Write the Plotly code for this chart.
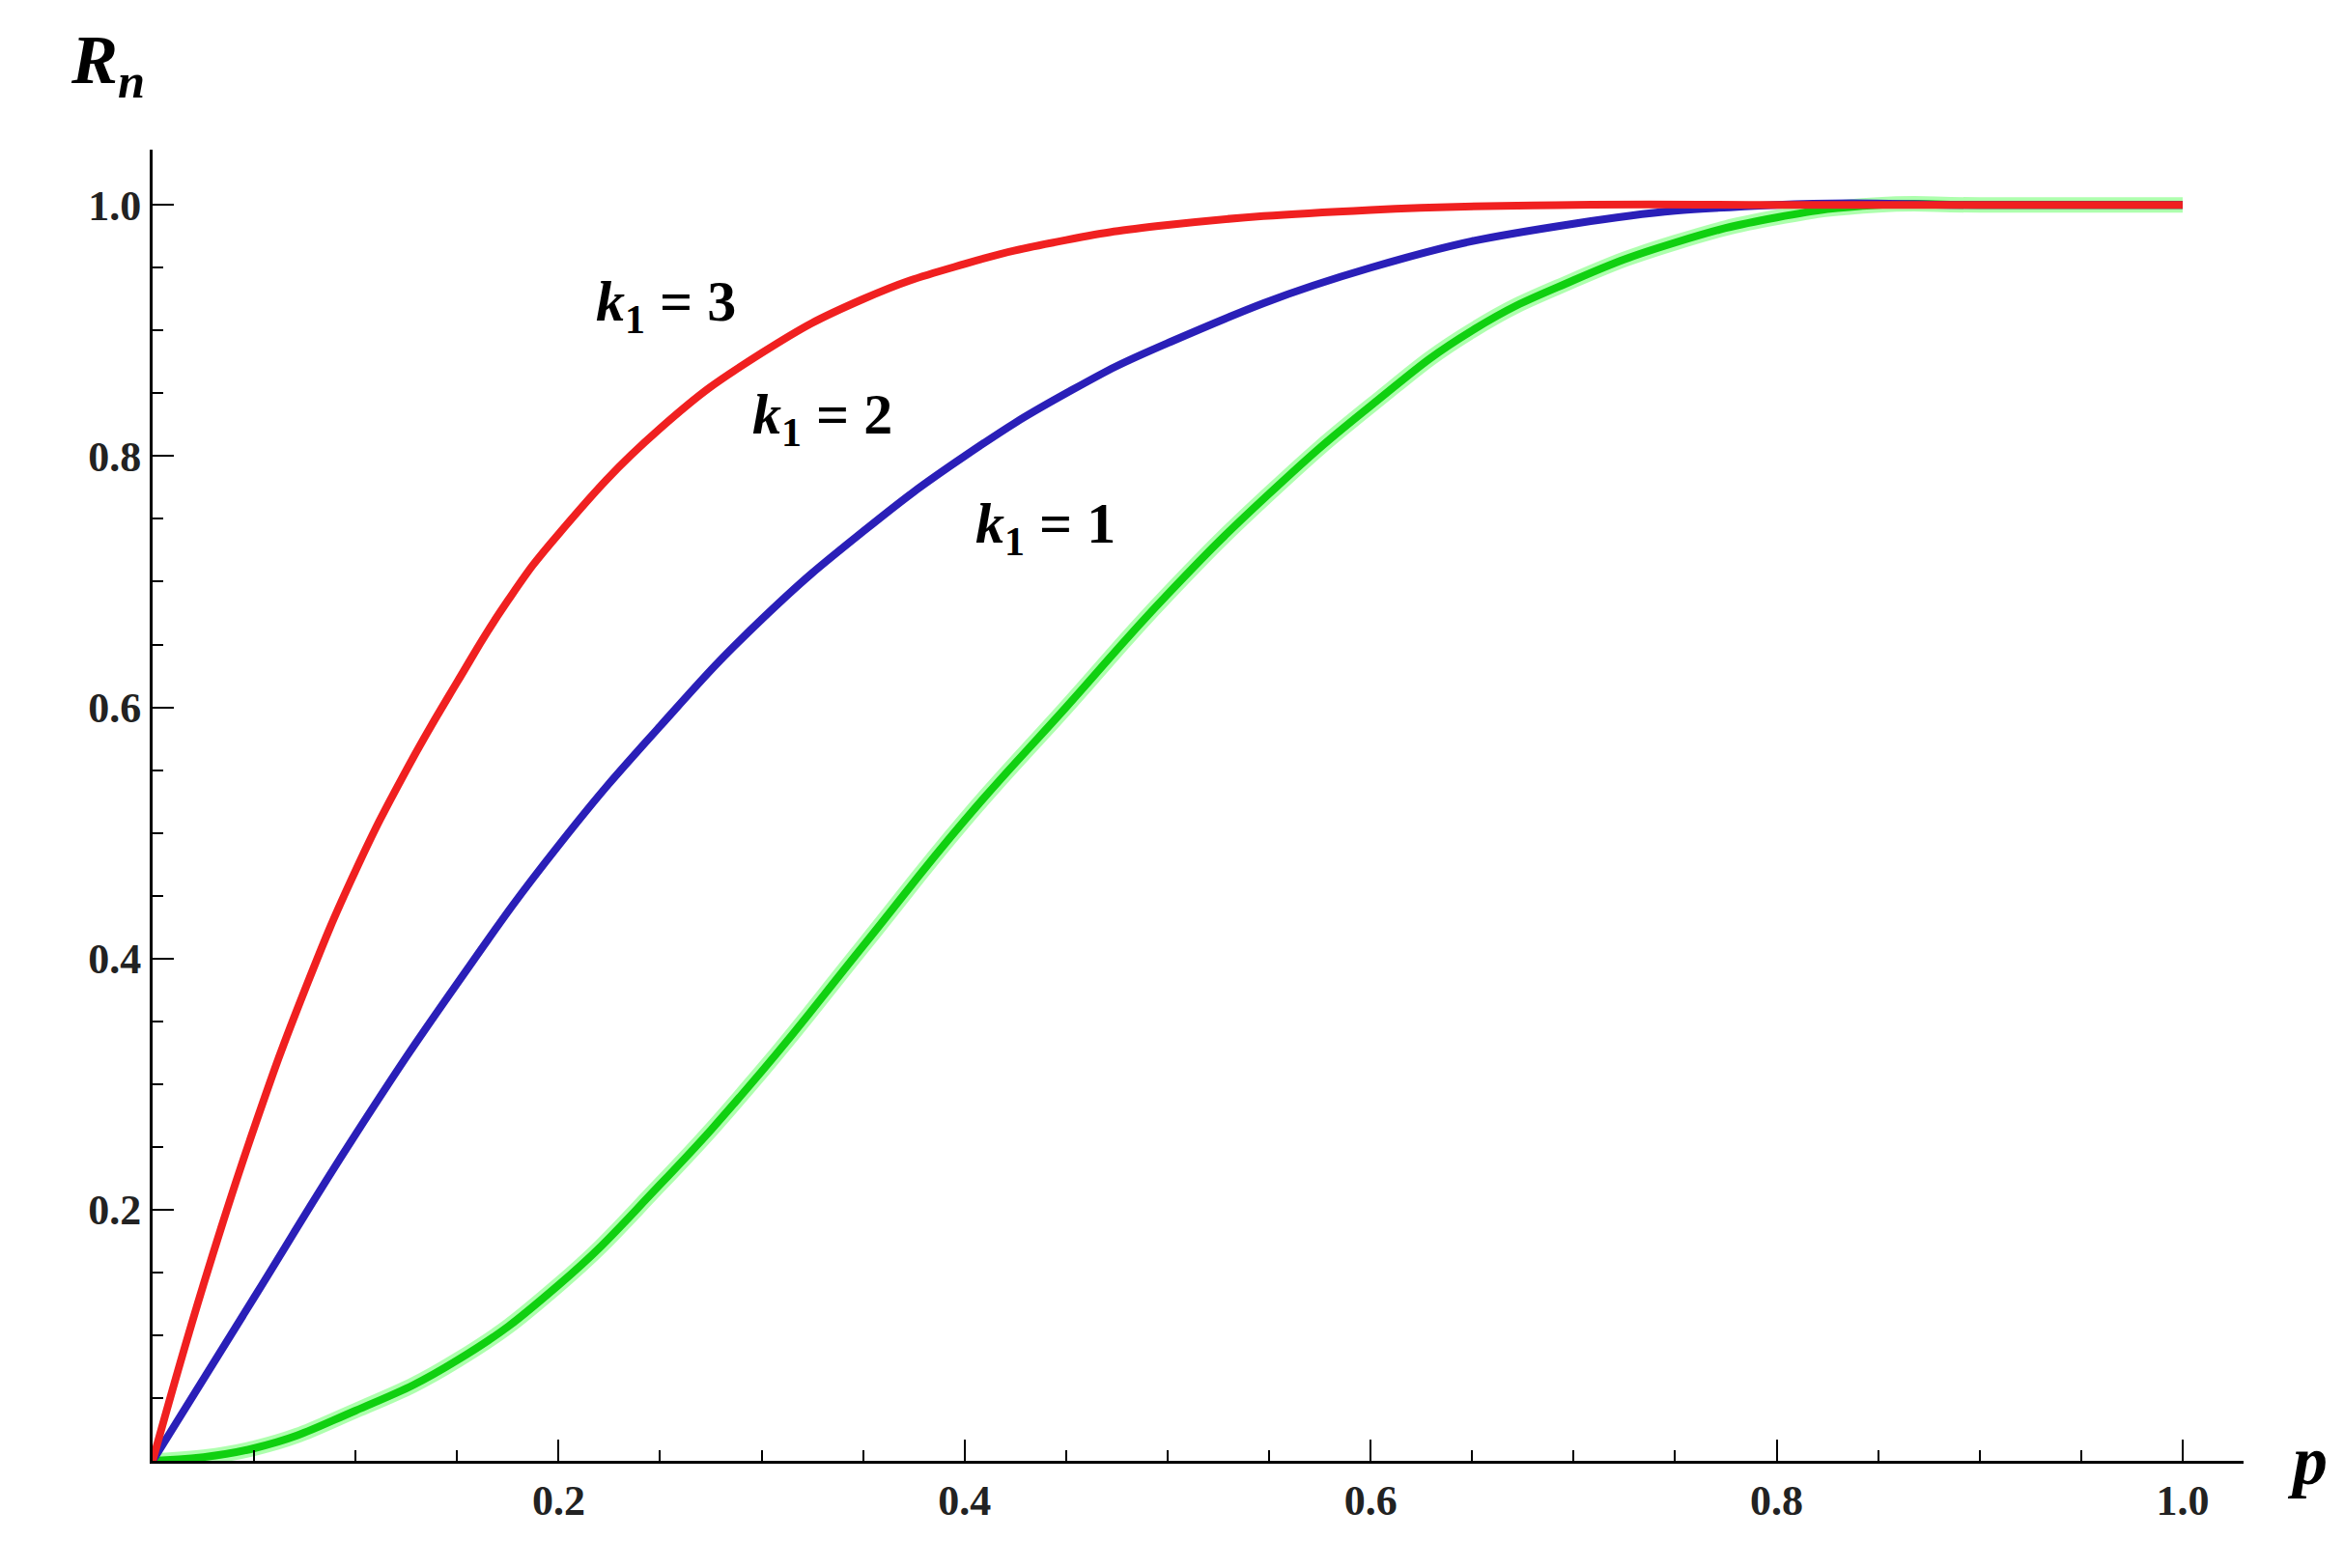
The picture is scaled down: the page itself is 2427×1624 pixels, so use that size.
import plotly.graph_objects as go

p_red = [0, 0.025, 0.05, 0.075, 0.1, 0.125, 0.15, 0.175, 0.2, 0.25, 0.3, 0.35, 0.4, 0.45, 0.5, 0.6, 0.7, 0.8, 0.9, 1.0]
r_red = [0, 0.14, 0.265, 0.375, 0.47, 0.55, 0.62, 0.685, 0.738, 0.822, 0.882, 0.925, 0.953, 0.972, 0.984, 0.996, 1.0, 1.0, 1.0, 1.0]
p_blue = [0, 0.05, 0.1, 0.15, 0.2, 0.25, 0.3, 0.35, 0.4, 0.45, 0.5, 0.6, 0.7, 0.8, 0.9, 1.0]
r_blue = [0, 0.13, 0.26, 0.38, 0.49, 0.585, 0.67, 0.74, 0.80, 0.85, 0.89, 0.95, 0.985, 1.0, 1.0, 1.0]
p_green = [0, 0.05, 0.1, 0.15, 0.2, 0.25, 0.3, 0.35, 0.4, 0.45, 0.5, 0.55, 0.6, 0.65, 0.7, 0.75, 0.8, 0.85, 0.9, 1.0]
r_green = [0, 0.01, 0.04, 0.08, 0.14, 0.22, 0.31, 0.41, 0.51, 0.60, 0.69, 0.77, 0.84, 0.90, 0.94, 0.97, 0.99, 1.0, 1.0, 1.0]
tick_vals = [0.2, 0.4, 0.6, 0.8, 1.0]
labels = [("3", 0.253, 0.92), ("2", 0.33, 0.83), ("1", 0.44, 0.743)]

fig = go.Figure()
fig.add_trace(go.Scatter(x=p_green, y=r_green, mode="lines", line=dict(color="rgba(120,255,120,0.6)", width=16, shape="spline", smoothing=1.3), hoverinfo="skip"))
fig.add_trace(go.Scatter(x=p_green, y=r_green, mode="lines", line=dict(color="#10d010", width=8, shape="spline", smoothing=1.3)))
fig.add_trace(go.Scatter(x=p_blue, y=r_blue, mode="lines", line=dict(color="#2a1fb8", width=8, shape="spline", smoothing=1.3)))
fig.add_trace(go.Scatter(x=p_red, y=r_red, mode="lines", line=dict(color="#f02020", width=8, shape="spline", smoothing=1.3)))

font = dict(family="Liberation Serif", size=44, color="#222", weight="bold")
axis = dict(showgrid=False, zeroline=False, showline=True, linecolor="black", linewidth=3,
            ticks="inside", ticklen=22, tickwidth=2, tickcolor="black",
            tickvals=tick_vals, tickformat=".1f", tickfont=font,
            minor=dict(ticks="inside", ticklen=11, tickwidth=2, dtick=0.05, tickcolor="black"))
fig.update_layout(width=2427, height=1624, plot_bgcolor="white", paper_bgcolor="white",
                  showlegend=False, margin=dict(l=150, r=112, t=147, b=119),
                  font=dict(family="Liberation Serif"))
fig.update_xaxes(range=[0, 1.03], **axis)
fig.update_yaxes(range=[0, 1.044], **axis)
for n, x, y in labels:
    fig.add_annotation(x=x, y=y, text="<b><i>k</i><sub>1</sub> = " + n + "</b>",
                       showarrow=False, xanchor="center", font=dict(family="Liberation Serif", size=60, color="black"))
fig.add_annotation(xref="paper", yref="paper", x=-0.04, y=1.03, yanchor="bottom", xanchor="left",
                   text="<b><i>R<sub>n</sub></i></b>", showarrow=False, font=dict(family="Liberation Serif", size=72, color="black"))
fig.add_annotation(xref="paper", yref="paper", x=1.02, y=0.0, yanchor="middle", xanchor="left",
                   text="<b><i>p</i></b>", showarrow=False, font=dict(family="Liberation Serif", size=72, color="black"))
fig.write_html("out.html")
